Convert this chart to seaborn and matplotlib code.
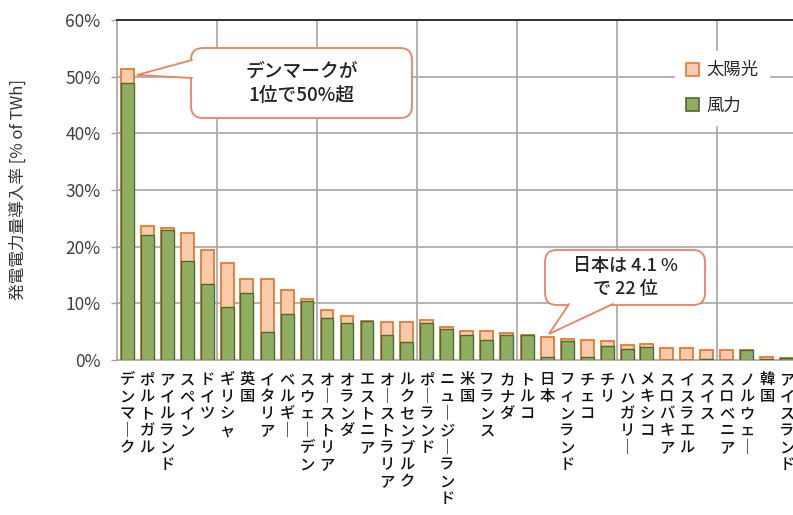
import matplotlib
matplotlib.use("Agg")
import matplotlib.pyplot as plt
import seaborn as sns
import pandas as pd
from matplotlib.patches import FancyBboxPatch, Polygon, Patch

countries = ["デンマーク", "ポルトガル", "アイルランド", "スペイン", "ドイツ", "ギリシャ", "英国",
             "イタリア", "ベルギー", "スウェーデン", "オーストリア", "オランダ", "エストニア",
             "オーストラリア", "ルクセンブルク", "ポーランド", "ニュージーランド", "米国",
             "フランス", "カナダ", "トルコ", "日本", "フィンランド", "チェコ", "チリ",
             "ハンガリー", "メキシコ", "スロバキア", "イスラエル", "スイス", "スロベニア",
             "ノルウェー", "韓国", "アイスランド"]
wind = [48.8, 22.1, 22.9, 17.5, 13.4, 9.4, 11.8, 4.9, 8.2, 10.4, 7.4, 6.6, 6.9,
        4.35, 3.2, 6.5, 5.5, 4.35, 3.5, 4.35, 4.5, 0.5, 3.3, 0.6, 2.5,
        1.9, 2.35, 0.0, 0.0, 0.1, 0.0, 1.75, 0.15, 0.35]
solar = [2.6, 1.5, 0.4, 5.0, 6.1, 7.8, 2.5, 9.4, 4.2, 0.4, 1.4, 1.2, 0.0,
         2.35, 3.5, 0.5, 0.3, 0.75, 1.6, 0.45, 0.0, 3.6, 0.45, 2.9, 0.9,
         0.7, 0.55, 2.05, 2.05, 1.7, 1.8, 0.0, 0.45, 0.0]
yticks = [0, 10, 20, 30, 40, 50, 60]

sns.set_style("white")
plt.rcParams["font.family"] = ["Noto Sans CJK JP", "DejaVu Sans"]

df = pd.DataFrame({"country": countries, "wind": wind, "solar": solar})
df["total"] = df["wind"] + df["solar"]

fig = plt.figure(figsize=(7.93, 5.15), dpi=100)
ax = fig.add_axes([117 / 793, 155 / 515, 680 / 793, 340 / 515])

solar_fc, solar_ec = "#f8cbad", "#e8792f"
wind_fc, wind_ec = "#8fae62", "#4f6a2c"

sns.barplot(data=df, x="country", y="total", ax=ax, color=solar_fc, width=0.65,
            edgecolor=solar_ec, linewidth=1.3, saturation=1, zorder=3)
sns.barplot(data=df, x="country", y="wind", ax=ax, color=wind_fc, width=0.65,
            edgecolor=wind_ec, linewidth=1.0, saturation=1, zorder=4)

ax.set_xlim(-0.5, len(countries) - 0.5)
ax.set_ylim(0, 60)
ax.set_yticks(yticks)
ax.set_yticklabels([f"{v}%" for v in yticks], fontsize=12.5, color="#404040")

# vertical stacked labels
def vert(s):
    return "\n".join(ch if ch != "ー" else "｜" for ch in s)

ax.set_xticks(range(len(countries)))
ax.set_xticklabels([vert(c) for c in countries], fontsize=11, color="#111111",
                   linespacing=1.0, va="top", fontweight="medium")
ax.tick_params(axis="x", length=0, pad=8)
ax.tick_params(axis="y", length=4, width=1, color="#a0a0a0", direction="out", left=True, pad=8)

# grid
for v in yticks[1:]:
    ax.axhline(v, color="#a6a6a6", lw=1.2, zorder=1)
for k in range(1, 7):
    ax.axvline(5 * k - 0.5, color="#a6a6a6", lw=1.2, zorder=1)

for s in ["left", "bottom", "right"]:
    ax.spines[s].set_color("#a6a6a6")
    ax.spines[s].set_linewidth(1.2)
ax.spines["top"].set_color("#222222")
ax.spines["top"].set_linewidth(1.3)

ax.set_xlabel("")
ax.set_ylabel("発電電力量導入率 [% of TWh]", fontsize=12, color="#333333")
ax.yaxis.set_label_coords(-0.133, 0.5)

# legend
handles = [Patch(facecolor=solar_fc, edgecolor=solar_ec, lw=1.2, label="太陽光"),
           Patch(facecolor=wind_fc, edgecolor=wind_ec, lw=1.2, label="風力")]
leg = ax.legend(handles=handles, loc="upper left", bbox_to_anchor=(0.808, 0.935),
                frameon=True, fontsize=12.5, handlelength=0.8, handleheight=0.8,
                labelspacing=1.0, handletextpad=0.4, borderpad=0.6, framealpha=1)
leg.get_frame().set_edgecolor("white")
leg.get_frame().set_facecolor("white")
leg.set_zorder(5)

# callouts (drawn in data coordinates)
px_x, px_y = 20.0, 340 / 60.0
call_ec = "#ef8060"

def callout(x0, x1, y0, y1, wedge, text, fs):
    box = FancyBboxPatch((x0, y0), x1 - x0, y1 - y0,
                         boxstyle=f"round,pad=0,rounding_size={12 / px_x}",
                         mutation_aspect=px_x / px_y,
                         fc="white", ec=call_ec, lw=1.3, zorder=6, clip_on=False)
    ax.add_patch(box)
    (a, b, tip) = wedge
    poly = Polygon([a, tip, b], closed=True, fc="white", ec="none", zorder=7, clip_on=False)
    ax.add_patch(poly)
    ax.plot([a[0], tip[0], b[0]], [a[1], tip[1], b[1]], color=call_ec, lw=1.3,
            zorder=8, clip_on=False, solid_joinstyle="miter")
    ax.text((x0 + x1) / 2, (y0 + y1) / 2, text, ha="center", va="center",
            fontsize=fs, color="#222222", linespacing=1.35, zorder=9, fontweight="medium")

# Denmark box
callout(3.2, 14.25, (360 - 118) / px_y, (360 - 48) / px_y,
        ((3.25, (360 - 60) / px_y), (3.25, (360 - 78) / px_y), (0.5, (360 - 75) / px_y)),
        "デンマークが\n1位で50%超", 13.5)
# Japan box
callout(20.9, 28.9, (360 - 305) / px_y, (360 - 250) / px_y,
        ((22.1, (360 - 304) / px_y), (24.3, (360 - 304) / px_y), (21.1, 4.6)),
        "日本は 4.1 %\nで 22 位", 13)

fig.savefig("out.png", dpi=100)
